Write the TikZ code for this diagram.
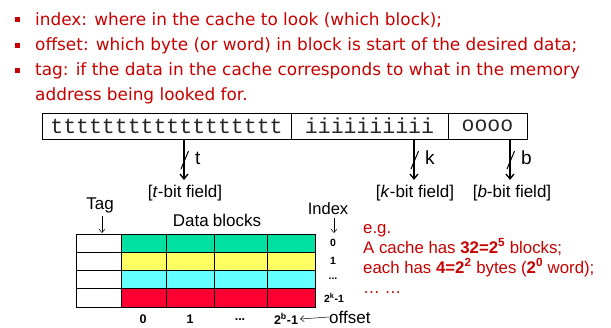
\documentclass[tikz,border=0pt]{standalone}
\usepackage{fontspec}
\setmainfont{Liberation Sans}
\setmonofont{Liberation Mono}
\newfontfamily\slidefont{DejaVu Sans}
\usetikzlibrary{arrows.meta,calc}

\definecolor{slidered}{RGB}{200,0,0}
\definecolor{rowgreen}{RGB}{0,224,160}
\definecolor{rowyellow}{RGB}{255,255,100}
\definecolor{rowcyan}{RGB}{100,255,255}
\definecolor{rowred}{RGB}{255,0,50}

\tikzset{
  bullettext/.style={anchor=base west,inner sep=0pt,text=slidered,font=\slidefont\fontsize{16.9}{20}\selectfont},
  bulletmark/.style={fill=slidered,minimum size=5pt,inner sep=0pt},
  bitbox/.style={draw,line width=.8pt,minimum height=26pt,inner sep=0pt,text=black!85,font=\ttfamily\fontsize{21.5}{22}\selectfont},
  fieldlab/.style={inner sep=0pt,font=\fontsize{17}{19}\selectfont},
  biglab/.style={inner sep=0pt,font=\fontsize{17}{19}\selectfont},
  smalllab/.style={inner sep=0pt,font=\bfseries\fontsize{10.5}{12}\selectfont},
  collab/.style={inner sep=0pt,font=\bfseries\fontsize{12.5}{14}\selectfont},
  cell/.style={draw,line width=.8pt,minimum height=18.25pt,inner sep=0pt},
  egtext/.style={anchor=base west,inner sep=0pt,text=slidered,font=\fontsize{16.8}{20}\selectfont},
  fieldarrow/.style={line width=1.3pt,-{Straight Barb[length=5pt,width=8pt]}},
  thinarrow/.style={line width=.5pt,-{Straight Barb[length=3.5pt,width=6pt]}}
}

\begin{document}
\begin{tikzpicture}[x=1pt,y=-1pt]
\useasboundingbox (0,0) rectangle (611,327);

% bullet list
\begin{scope}
  \node[bulletmark] (b1) at (17.5,19.5) {};
  \node[bulletmark] (b2) at (17.5,45) {};
  \node[bulletmark] (b3) at (17.5,70.5) {};
  \node[bullettext] (l1) at (35,25) {index: where in the cache to look (which block);};
  \node[bullettext] (l2) at (35,50) {offset: which byte (or word) in block is start of the desired data;};
  \node[bullettext] (l3) at (35,75) {tag: if the data in the cache corresponds to what in the memory};
  \node[bullettext] (l4) at (35,100) {address being looked for.};
\end{scope}

% address fields
\node[bitbox,minimum width=249pt] (tbits) at (166.5,126) {tttttttttttttttttt};
\node[bitbox,minimum width=157pt] (ibits) at (369.5,126) {iiiiiiiiii};
\node[bitbox,minimum width=79pt]  (obits) at (487.5,126) {oooo};

\node[fieldlab] (tlab) at (185,193) {[\textit{t}-bit field]};
\node[fieldlab] (klab) at (415,193) {[\textit{k}-bit field]};
\node[fieldlab] (blab) at (512,193) {[\textit{b}-bit field]};

\coordinate (ta) at (184,139);
\coordinate (ka) at (414,139);
\coordinate (ba) at (510,139);

\foreach \src/\nm in {ta/t,ka/k,ba/b} {
  \draw[fieldarrow] (\src) -- ++(0,41) coordinate (\nm end);
  \draw[line width=1pt] ($(\src)+(-3,30)$) -- ($(\src)+(4.5,12)$);
  \node[fieldlab,anchor=west,font=\fontsize{19}{21}\selectfont] (\nm w) at ($(\src)+(11,19)$) {\nm};
}

% cache table
\begin{scope}
  \foreach \c [count=\n] in {rowgreen,rowyellow,rowcyan,rowred} {
    \node[cell,minimum width=45pt,fill=white] (tag\n) at (98.5,{224.875+18.25*\n}) {};
    \node[cell,minimum width=194pt,fill=\c] (row\n) at (218,{224.875+18.25*\n}) {};
  }
  \foreach \x in {166,214,267}
    \draw[line width=.8pt] (\x,234) -- (\x,307);
\end{scope}

\node[biglab] (taglab) at (100,205) {Tag};
\node[biglab] (datalab) at (217,220) {Data\hspace{4pt}blocks};
\node[biglab,font=\fontsize{16.5}{18}\selectfont] (indexlab) at (328,209) {Index};
\coordinate (tagtop) at (102,233);
\coordinate (idxtop) at (334,233);
\draw[thinarrow] (taglab.south -| tagtop) ++(0,3) -- (tagtop);
\draw[thinarrow] (indexlab.south -| idxtop) ++(0,3) -- (idxtop);

% row indices
\node[smalllab] (r0) at (333,243) {0};
\node[smalllab] (r1) at (333,261) {1};
\node[smalllab] (r2) at (333,279) {...};
\node[smalllab] (r3) at (334,298) {2\textsuperscript{k}-1};

% column offsets
\node[collab] (c0) at (143,319) {0};
\node[collab] (c1) at (190,319) {1};
\node[collab] (c2) at (240,320) {...};
\node[collab] (c3) at (286,319) {2\textsuperscript{b}-1};
\node[biglab,anchor=west] (offlab) at (329,317) {offset};
\draw[thinarrow] (offlab.west) -- ([xshift=2pt]c3.east);

% example
\node[egtext] (e1) at (363,233) {e.g.};
\node[egtext] (e2) at (363,253) {A cache has \textbf{32=2\textsuperscript{5}} blocks;};
\node[egtext] (e3) at (363,273) {each has \textbf{4=2\textsuperscript{2}} bytes (\textbf{2\textsuperscript{0}} word);};
\node[egtext] (e4) at (363,293) {\dots\ \dots};

\end{tikzpicture}
\end{document}
